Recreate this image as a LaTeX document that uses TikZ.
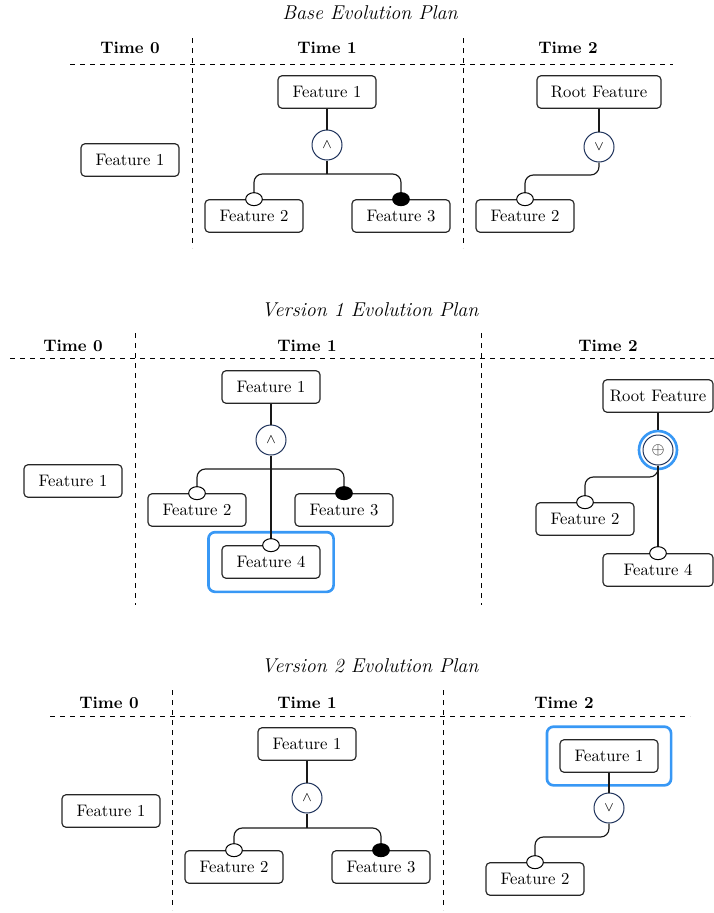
\documentclass[tikz,border=0pt]{standalone}
\usetikzlibrary{shapes.geometric,fit}
\definecolor{navy}{RGB}{31,51,92}
\definecolor{hl}{RGB}{56,152,245}
\begin{document}
\begin{tikzpicture}[x=0.6pt,y=-0.6pt,
  feat/.style={draw=black!85, line width=0.7pt, rounded corners=2.4pt,
    minimum width=58.8pt, minimum height=19.5pt, inner sep=0pt, fill=white},
  op/.style={circle, draw=navy, line width=0.6pt, minimum size=18pt,
    inner sep=0pt, fill=white, font=\footnotesize},
  conn/.style={line width=0.7pt, draw=black!90},
  opt/.style={ellipse, draw=black, line width=0.6pt, fill=white,
    minimum width=10pt, minimum height=7.8pt, inner sep=0pt},
  man/.style={opt, fill=black},
  grid/.style={dashed, line width=0.6pt},
  title/.style={font=\large\itshape},
  head/.style={font=\bfseries},
  hilite/.style={draw=hl, line width=1.6pt, rounded corners=4pt},
]
\useasboundingbox (0,0) rectangle (714,913);

% ---------------- Base evolution plan ----------------
\node[title] (t1) at (370,13) {Base Evolution Plan};
\node[head] (h10) at (130,48) {Time 0};
\node[head] (h11) at (327,48) {Time 1};
\node[head] (h12) at (568,48) {Time 2};
\draw[grid] (70,64) -- (673,64);
\draw[grid] (192,38) -- (192,248);
\draw[grid] (463,38) -- (463,248);

\node[feat] (a0) at (130,160) {Feature 1};

\node[feat] (a1) at (327,92) {Feature 1};
\node[op] (a1and) at (327,145) {$\wedge$};
\node[feat] (a2) at (254,216) {Feature 2};
\node[feat] (a3) at (401,216) {Feature 3};
\coordinate (a1bar) at (327,174);
\draw[conn] (a1) -- (a1and);
\draw[conn] (a1and) -- (a1bar);
\draw[conn, rounded corners=5pt] (a2.north) |- (a1bar) -| (a3.north);
\node[opt] (a2o) at (a2.north) {};
\node[man] (a3o) at (a3.north) {};

\node[feat, minimum width=74.4pt] (b1) at (599,92) {Root Feature};
\node[op] (b1or) at (599,147) {$\vee$};
\node[feat] (b2) at (525,216) {Feature 2};
\coordinate (b1k) at (599,175);
\draw[conn] (b1) -- (b1or);
\draw[conn, rounded corners=5pt] (b1or.south) -- (b1k) -| (b2.north);
\node[opt] (b2o) at (b2.north) {};

% ---------------- Version 1 evolution plan ----------------
\node[title] (t2) at (370,310) {Version 1 Evolution Plan};
\node[head] (h20) at (73,346) {Time 0};
\node[head] (h21) at (307,346) {Time 1};
\node[head] (h22) at (608,346) {Time 2};
\draw[grid] (10,358) -- (714,358);
\draw[grid] (135,333) -- (135,605);
\draw[grid] (481,333) -- (481,605);

\node[feat] (c0) at (73,481) {Feature 1};

\node[feat] (c1) at (271,387) {Feature 1};
\node[op] (c1and) at (271,440) {$\wedge$};
\node[feat] (c2) at (197,510) {Feature 2};
\node[feat] (c3) at (344,510) {Feature 3};
\node[feat] (c4) at (271,562) {Feature 4};
\node[hilite, fit=(c4), inner sep=7.8pt] (c4hl) {};
\coordinate (c1bar) at (271,469);
\draw[conn] (c1) -- (c1and);
\draw[conn] (c1and) -- (c4.north);
\draw[conn, rounded corners=5pt] (c2.north) |- (c1bar) -| (c3.north);
\node[opt] (c2o) at (c2.north) {};
\node[man] (c3o) at (c3.north) {};
\node[opt] (c4o) at (c4.north) {};

\node[feat, minimum width=66pt] (d1) at (658,396) {Root Feature};
\node[circle, draw=hl, line width=1.6pt, minimum size=22.8pt] (d1ring) at (658,450) {};
\node[op, font=\normalsize] (d1xor) at (658,450) {$\oplus$};
\node[feat] (d2) at (585,519) {Feature 2};
\node[feat, minimum width=66pt] (d4) at (658,570) {Feature 4};
\coordinate (d1k) at (658,477);
\draw[conn] (d1) -- (d1ring);
\draw[conn] (d1xor) -- (d4.north);
\draw[conn, rounded corners=5pt] (d1xor.south) -- (d1k) -| (d2.north);
\node[opt] (d2o) at (d2.north) {};
\node[opt] (d4o) at (d4.north) {};

% ---------------- Version 2 evolution plan ----------------
\node[title] (t3) at (370,666) {Version 2 Evolution Plan};
\node[head] (h30) at (109,703) {Time 0};
\node[head] (h31) at (307,703) {Time 1};
\node[head] (h32) at (564,703) {Time 2};
\draw[grid] (50,716) -- (690,716);
\draw[grid] (172,690) -- (172,910);
\draw[grid] (443,690) -- (443,910);

\node[feat] (e0) at (111,811) {Feature 1};

\node[feat] (e1) at (307,744) {Feature 1};
\node[op] (e1and) at (307,798) {$\wedge$};
\node[feat] (e2) at (234,867) {Feature 2};
\node[feat] (e3) at (381,867) {Feature 3};
\coordinate (e1bar) at (307,828);
\draw[conn] (e1) -- (e1and);
\draw[conn] (e1and) -- (e1bar);
\draw[conn, rounded corners=5pt] (e2.north) |- (e1bar) -| (e3.north);
\node[opt] (e2o) at (e2.north) {};
\node[man] (e3o) at (e3.north) {};

\node[feat] (g1) at (609,756) {Feature 1};
\node[hilite, fit=(g1), inner sep=7.5pt] (g1hl) {};
\node[op] (g1or) at (609,808) {$\vee$};
\node[feat] (g2) at (535,879) {Feature 2};
\coordinate (g1k) at (609,837);
\draw[conn] (g1) -- (g1or);
\draw[conn, rounded corners=5pt] (g1or.south) -- (g1k) -| (g2.north);
\node[opt] (g2o) at (g2.north) {};
\end{tikzpicture}
\end{document}
